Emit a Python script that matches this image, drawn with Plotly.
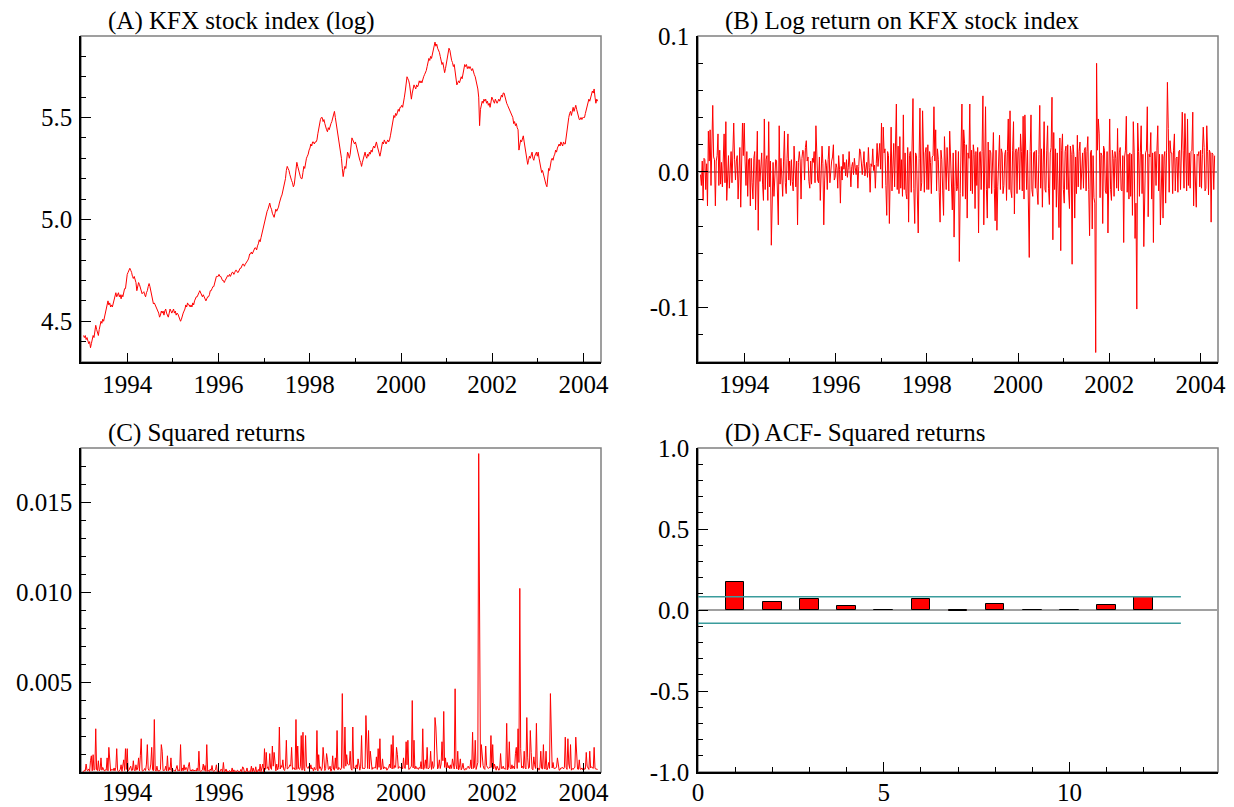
import pandas as pd
import plotly.graph_objects as go

W, H = 1234, 807

# ---------------- (A) KFX stock index (log), weekly, per calendar year ----------------
kfx_1993 = [4.43, 4.42, 4.43, 4.41, 4.42, 4.40, 4.39, 4.40, 4.37,
            4.39, 4.41, 4.43, 4.42, 4.45, 4.48,
            4.46, 4.44, 4.43, 4.46, 4.49, 4.50,
            4.49, 4.51, 4.50, 4.52, 4.54, 4.56, 4.59, 4.60,
            4.58, 4.59, 4.57, 4.58, 4.57,
            4.59, 4.61, 4.63, 4.64,
            4.62, 4.63, 4.64, 4.62, 4.63, 4.61,
            4.63, 4.62, 4.64, 4.66, 4.66, 4.71]
kfx_1994 = [4.73, 4.74, 4.75, 4.76, 4.75, 4.74, 4.72, 4.71, 4.72, 4.70, 4.69, 4.65, 4.67,
            4.69, 4.68, 4.66, 4.65, 4.635, 4.64, 4.645, 4.63, 4.62, 4.64, 4.65, 4.67, 4.685,
            4.67, 4.65, 4.635, 4.60, 4.585, 4.59, 4.58, 4.57, 4.56, 4.55, 4.54, 4.52, 4.53,
            4.55, 4.54, 4.55, 4.53, 4.55, 4.56, 4.54, 4.53, 4.52, 4.54, 4.56, 4.55, 4.54]
kfx_1995 = [4.55, 4.56, 4.54, 4.55, 4.53, 4.54, 4.535, 4.52, 4.51, 4.50, 4.51, 4.53, 4.54,
            4.55, 4.56, 4.58, 4.57, 4.59, 4.58, 4.58, 4.57, 4.58, 4.57, 4.59, 4.58, 4.60,
            4.61, 4.62, 4.62, 4.635, 4.64, 4.65, 4.64, 4.63, 4.62, 4.63, 4.62, 4.61, 4.60,
            4.61, 4.62, 4.62, 4.63, 4.65, 4.65, 4.66, 4.67, 4.67, 4.69, 4.70, 4.72, 4.72]
kfx_1996 = [4.72, 4.73, 4.72, 4.72, 4.71, 4.70, 4.70, 4.69, 4.70, 4.71, 4.72, 4.725, 4.72,
            4.73, 4.72, 4.73, 4.74, 4.74, 4.73, 4.74, 4.75, 4.75, 4.74, 4.74, 4.75, 4.76,
            4.76, 4.77, 4.78, 4.78, 4.77, 4.78, 4.785, 4.79, 4.80, 4.81, 4.83, 4.83, 4.84,
            4.83, 4.84, 4.85, 4.86, 4.86, 4.85, 4.87, 4.88, 4.90, 4.89, 4.91, 4.93, 4.95, 4.97]
kfx_1997 = [4.99, 5.01, 5.03, 5.04, 5.05, 5.07, 5.08, 5.06, 5.05, 5.03, 5.02, 5.01, 5.03,
            5.05, 5.04, 5.05, 5.06, 5.08, 5.10, 5.11, 5.12, 5.14, 5.15, 5.17, 5.20, 5.24,
            5.26, 5.25, 5.24, 5.22, 5.20, 5.19, 5.18, 5.16, 5.17, 5.20, 5.24, 5.28, 5.26,
            5.24, 5.22, 5.21, 5.20, 5.20, 5.23, 5.26, 5.25, 5.28, 5.30, 5.31, 5.32, 5.34]
kfx_1998 = [5.35, 5.37, 5.36, 5.38, 5.38, 5.37, 5.38, 5.38, 5.39, 5.42, 5.45, 5.47, 5.49,
            5.50, 5.50, 5.48, 5.49, 5.47, 5.45, 5.44, 5.43, 5.45, 5.44, 5.46, 5.47, 5.48,
            5.50, 5.51, 5.53, 5.50, 5.47, 5.45, 5.42, 5.39, 5.37, 5.34, 5.30, 5.25, 5.21,
            5.24, 5.26, 5.25, 5.29, 5.33, 5.32, 5.30, 5.32, 5.35, 5.40, 5.39, 5.38, 5.37]
kfx_1999 = [5.38, 5.36, 5.35, 5.33, 5.31, 5.29, 5.28, 5.26, 5.28, 5.30, 5.32, 5.33, 5.31,
            5.30, 5.32, 5.31, 5.33, 5.32, 5.34, 5.33, 5.35, 5.36, 5.35, 5.37, 5.38, 5.36,
            5.34, 5.32, 5.31, 5.33, 5.36, 5.38, 5.37, 5.39, 5.38, 5.37, 5.38, 5.39, 5.38,
            5.39, 5.41, 5.44, 5.47, 5.49, 5.51, 5.50, 5.52, 5.51, 5.53, 5.54, 5.53, 5.55]
kfx_2000 = [5.55, 5.56, 5.55, 5.57, 5.60, 5.63, 5.67, 5.70, 5.69, 5.68, 5.66, 5.62, 5.59,
            5.62, 5.64, 5.66, 5.65, 5.64, 5.66, 5.65, 5.66, 5.68, 5.67, 5.68, 5.67, 5.69,
            5.70, 5.71, 5.72, 5.73, 5.75, 5.77, 5.79, 5.78, 5.80, 5.79, 5.81, 5.83, 5.85,
            5.87, 5.85, 5.86, 5.84, 5.83, 5.82, 5.80, 5.78, 5.76, 5.77, 5.75, 5.72, 5.74, 5.77]
kfx_2001 = [5.79, 5.82, 5.84, 5.83, 5.80, 5.78, 5.77, 5.75, 5.76, 5.73, 5.70, 5.66, 5.67,
            5.68, 5.67, 5.69, 5.70, 5.69, 5.72, 5.74, 5.76, 5.75, 5.76, 5.74, 5.75, 5.74,
            5.75, 5.74, 5.73, 5.74, 5.72, 5.71, 5.70, 5.68, 5.66, 5.64, 5.60, 5.46, 5.54,
            5.56, 5.58, 5.57, 5.59, 5.58, 5.59, 5.57, 5.58, 5.56, 5.57, 5.55, 5.58, 5.60]
kfx_2002 = [5.59, 5.58, 5.57, 5.59, 5.58, 5.57, 5.58, 5.59, 5.58, 5.60, 5.61, 5.60, 5.62,
            5.62, 5.60, 5.58, 5.57, 5.56, 5.55, 5.54, 5.53, 5.52, 5.51, 5.50, 5.47, 5.48,
            5.46, 5.47, 5.45, 5.44, 5.34, 5.37, 5.39, 5.38, 5.40, 5.41, 5.38, 5.35, 5.31,
            5.29, 5.27, 5.29, 5.31, 5.30, 5.32, 5.33, 5.30, 5.29, 5.31, 5.32, 5.33, 5.31]
kfx_2003 = [5.33, 5.30, 5.28, 5.26, 5.23, 5.24, 5.22, 5.21, 5.19, 5.17, 5.16, 5.22, 5.25,
            5.24, 5.27, 5.29, 5.30, 5.29, 5.31, 5.32, 5.34, 5.33, 5.35, 5.36, 5.37, 5.36,
            5.38, 5.37, 5.36, 5.38, 5.37, 5.37, 5.41, 5.45, 5.48, 5.50, 5.52, 5.53, 5.51,
            5.54, 5.55, 5.53, 5.55, 5.56, 5.54, 5.52, 5.50, 5.49, 5.49, 5.50, 5.49, 5.50]
kfx_2004 = [5.50, 5.50, 5.52, 5.54, 5.56, 5.57, 5.59, 5.58, 5.60, 5.61, 5.63, 5.62, 5.64,
            5.60, 5.57, 5.59, 5.58]

# ---------------- (B) weekly log return, per calendar year ----------------
ret_1993 = [-0.002, -0.010, 0.008, -0.021, 0.010, 0.009, -0.013, 0.006, -0.025, 0.030,
            0.008, 0.031, -0.010, 0.012, 0.049, 0.011, 0.009, -0.025, 0.008, 0.012,
            0.028, -0.010, 0.016, -0.009, 0.007, -0.011, 0.010, 0.028, -0.008, 0.037,
            -0.021, 0.007, 0.012, -0.012, 0.009, 0.015, -0.008, 0.016, 0.036, 0.009,
            -0.006, 0.008, 0.012, -0.020, 0.006, 0.018, -0.026, 0.009, 0.036, 0.012]
ret_1994 = [0.036, 0.008, -0.010, 0.015, -0.018, 0.009, 0.010, -0.025, 0.010, -0.008,
            -0.020, 0.010, 0.015, -0.028, 0.008, 0.030, -0.043, 0.009, -0.007, 0.010,
            0.014, -0.009, -0.021, 0.039, -0.013, 0.009, 0.012, -0.021, 0.037, -0.011,
            0.008, -0.054, -0.010, 0.007, -0.018, -0.008, 0.009, 0.008, -0.012, -0.039,
            0.034, -0.009, 0.010, -0.010, -0.018, 0.008, 0.030, -0.008, -0.016, 0.010,
            0.028, -0.006]
ret_1995 = [0.008, -0.010, 0.009, -0.007, -0.014, 0.019, 0.008, -0.011, 0.008, -0.039,
            0.007, 0.015, 0.008, -0.020, 0.010, 0.016, 0.015, -0.006, 0.018, 0.023,
            0.008, 0.011, -0.007, -0.012, 0.008, -0.009, 0.010, 0.007, 0.015, -0.008,
            0.034, 0.008, -0.006, -0.008, 0.011, -0.021, 0.009, 0.019, 0.006, -0.039,
            -0.006, 0.009, 0.005, -0.013, 0.009, 0.019, -0.008, 0.006, 0.008, 0.011,
            0.020, -0.006]
ret_1996 = [-0.004, 0.006, 0.003, -0.012, 0.012, 0.002, -0.023, 0.004, -0.006, 0.013,
            0.002, 0.007, -0.003, 0.009, -0.004, 0.003, 0.015, 0.002, -0.011, 0.004,
            0.007, -0.002, 0.010, 0.003, -0.002, 0.005, -0.012, 0.004, 0.017, 0.015,
            0.002, -0.002, 0.006, 0.015, -0.003, 0.001, 0.007, -0.004, 0.018, 0.003,
            -0.015, 0.006, 0.004, 0.017, 0.001, 0.005, -0.012, 0.006, 0.021, 0.004,
            0.015, 0.021, 0.002]
ret_1997 = [0.036, -0.012, 0.033, 0.014, 0.017, -0.010, -0.032, 0.015, 0.012, -0.038,
            0.018, 0.033, -0.014, 0.008, 0.021, -0.011, 0.016, 0.050, -0.013, 0.019,
            -0.016, 0.026, -0.012, 0.009, -0.018, 0.042, -0.013, 0.014, -0.016, -0.020,
            0.018, -0.037, 0.012, 0.015, -0.015, 0.011, 0.054, -0.012, -0.038, 0.014,
            0.012, -0.017, -0.045, 0.010, 0.047, -0.014, -0.008, 0.045, 0.018, -0.015,
            0.014, 0.018]
ret_1998 = [-0.013, 0.020, -0.013, 0.015, 0.007, -0.016, 0.011, 0.012, 0.048, 0.008,
            0.031, -0.014, 0.017, 0.009, -0.015, -0.037, 0.016, 0.009, -0.014, -0.032,
            0.026, 0.012, -0.013, 0.018, 0.006, -0.014, 0.030, 0.012, -0.010, -0.028,
            0.014, -0.048, -0.011, 0.016, -0.014, -0.011, 0.015, -0.066, -0.016, 0.014,
            0.050, -0.018, 0.031, 0.021, -0.020, 0.020, -0.034, 0.014, 0.010, 0.050,
            -0.014, 0.016]
ret_1999 = [-0.016, 0.020, 0.013, -0.027, 0.015, -0.010, 0.018, -0.045, 0.014, 0.015,
            -0.013, 0.015, 0.056, -0.039, 0.014, 0.048, -0.013, -0.034, 0.022, -0.012,
            0.016, 0.014, -0.016, 0.015, 0.029, -0.012, -0.036, 0.016, -0.043, -0.011,
            0.015, 0.027, -0.013, 0.017, 0.014, -0.016, -0.010, 0.013, 0.016, -0.021,
            0.015, 0.039, -0.013, 0.045, -0.014, -0.019, 0.016, 0.037, -0.031, 0.014,
            0.017, -0.016]
ret_2000 = [0.015, 0.018, -0.013, 0.028, 0.015, -0.014, 0.041, -0.020, 0.042, 0.012,
            -0.013, 0.016, -0.018, -0.063, 0.015, 0.042, -0.013, -0.018, 0.014, 0.015,
            -0.012, 0.016, -0.014, -0.024, 0.013, 0.049, -0.012, 0.017, -0.026, 0.014,
            0.037, -0.013, -0.015, 0.016, 0.034, -0.012, -0.024, 0.014, 0.018, 0.055,
            -0.050, 0.029, -0.013, 0.017, -0.026, 0.014, -0.021, -0.041, 0.025, -0.058,
            0.016, 0.028, -0.013]
ret_2001 = [-0.023, 0.015, 0.019, -0.013, 0.020, -0.014, -0.027, 0.019, 0.013, -0.068,
            0.020, 0.013, -0.034, 0.011, -0.016, 0.027, -0.011, 0.015, 0.022, -0.013,
            0.010, 0.014, -0.012, 0.016, 0.018, -0.014, 0.015, 0.026, -0.013, -0.047,
            0.014, 0.016, -0.042, 0.012, -0.019, -0.023, -0.133, 0.080, 0.016, 0.039,
            0.028, -0.019, 0.014, 0.012, -0.038, 0.019, 0.016, -0.014, -0.016, 0.015,
            -0.045, 0.016]
ret_2002 = [0.039, -0.013, -0.021, 0.016, 0.010, -0.018, 0.015, 0.010, -0.012, 0.032,
            -0.014, 0.014, 0.018, -0.013, -0.014, 0.012, -0.052, 0.011, 0.016, 0.041,
            -0.015, 0.013, -0.020, 0.014, -0.018, 0.013, -0.032, 0.037, 0.014, -0.049,
            -0.023, -0.101, 0.036, 0.015, -0.018, 0.014, 0.034, -0.016, 0.013, -0.055,
            -0.028, 0.014, 0.016, 0.048, -0.033, 0.013, 0.011, 0.029, -0.020, 0.014,
            -0.052, 0.014]
ret_2003 = [0.015, -0.010, 0.016, 0.034, -0.014, 0.013, -0.039, -0.014, 0.013, -0.034,
            0.011, 0.015, -0.023, 0.014, 0.066, 0.032, -0.015, 0.023, 0.014, 0.014,
            -0.016, 0.016, 0.028, -0.014, 0.010, 0.011, -0.015, 0.015, 0.016, -0.013,
            0.016, 0.044, 0.016, -0.012, 0.043, 0.021, -0.014, 0.039, -0.010, 0.014,
            -0.012, 0.015, 0.016, 0.044, -0.025, 0.013, -0.012, -0.026, 0.013, 0.012,
            0.015, -0.011]
ret_2004 = [0.016, -0.012, 0.013, 0.033, 0.018, -0.014, -0.012, 0.034, 0.015, -0.017,
            0.016, 0.014, -0.037, 0.014, 0.013, -0.013, 0.012]

# ---------------- (D) ACF of squared returns ----------------
acf_lags = [1, 2, 3, 4, 5, 6, 7, 8, 9, 10, 11, 12]
acf_values = [0.176, 0.047, 0.068, 0.025, 0.003, 0.066, -0.008, 0.035, 0.002, 0.002, 0.031, 0.080]
acf_band = 0.082

year_ticks = ["1994", "1996", "1998", "2000", "2002", "2004"]

# ---------------- assemble ----------------
log_index = (kfx_1993 + kfx_1994 + kfx_1995 + kfx_1996 + kfx_1997 + kfx_1998 +
             kfx_1999 + kfx_2000 + kfx_2001 + kfx_2002 + kfx_2003 + kfx_2004)
log_ret = (ret_1993 + ret_1994 + ret_1995 + ret_1996 + ret_1997 + ret_1998 +
           ret_1999 + ret_2000 + ret_2001 + ret_2002 + ret_2003 + ret_2004)
sq_ret = [r * r for r in log_ret]

d_index = pd.date_range("1993-01-15", periods=len(log_index), freq="7D")
d_ret = pd.date_range("1993-01-15", periods=len(log_ret), freq="7D")

RED = "#ff0000"
FONT = "Liberation Serif"
FS = 25

# panel frames in pixels (left, right, top, bottom)
PA = (81, 601, 36, 362)
PB = (698, 1218, 36, 362)
PC = (81, 601, 448, 772)
PD = (698, 1218, 448, 772)


def xdom(p):
    return [p[0] / W, p[1] / W]


def ydom(p):
    return [1 - p[3] / H, 1 - p[2] / H]


fig = go.Figure()
fig.add_trace(go.Scatter(x=d_index, y=log_index, mode="lines",
                         line=dict(color=RED, width=1), xaxis="x", yaxis="y"))
fig.add_trace(go.Scatter(x=d_ret, y=log_ret, mode="lines",
                         line=dict(color=RED, width=1), xaxis="x2", yaxis="y2"))
fig.add_trace(go.Scatter(x=d_ret, y=sq_ret, mode="lines",
                         line=dict(color=RED, width=1), xaxis="x3", yaxis="y3"))
band_x = [0, len(acf_lags) + 1]
fig.add_trace(go.Scatter(x=band_x, y=[acf_band, acf_band], mode="lines",
                         line=dict(color="#3a9c9c", width=1.5), xaxis="x4", yaxis="y4"))
fig.add_trace(go.Scatter(x=band_x, y=[-acf_band, -acf_band], mode="lines",
                         line=dict(color="#3a9c9c", width=1.5), xaxis="x4", yaxis="y4"))
fig.add_trace(go.Bar(x=acf_lags, y=acf_values, width=0.5,
                     marker=dict(color=RED, line=dict(color="black", width=1)),
                     xaxis="x4", yaxis="y4"))

tickfont = dict(family=FONT, size=FS, color="black")


def base_axis(dom, anchor):
    return dict(domain=dom, anchor=anchor, showgrid=False, zeroline=False,
                showline=True, linecolor="black", linewidth=1.5, automargin=False,
                ticks="inside", tickcolor="black", tickwidth=1,
                tickfont=tickfont, fixedrange=True)


def date_axis(p, anchor, standoff):
    a = base_axis(xdom(p), anchor)
    a.update(type="date", range=["1992-12-26", "2004-05-20"],
             tickmode="array",
             tickvals=[f"{y}-01-01" for y in year_ticks], ticktext=year_ticks,
             ticklen=9, ticklabelstandoff=standoff,
             minor=dict(dtick="M12", tick0="1993-01-01", ticklen=4,
                        ticks="inside", tickcolor="black", tickwidth=1))
    return a


def val_axis(p, anchor, rng, vals, texts, minor_dtick):
    a = base_axis(ydom(p), anchor)
    a.update(range=rng, tickmode="array", tickvals=vals, ticktext=texts,
             ticklen=10, ticklabelstandoff=2,
             minor=dict(dtick=minor_dtick, tick0=0, ticklen=5,
                        ticks="inside", tickcolor="black", tickwidth=1))
    return a


layout = dict(
    template="none",
    width=W, height=H, margin=dict(l=0, r=0, t=0, b=0, autoexpand=False),
    paper_bgcolor="white", plot_bgcolor="white", showlegend=False,
    font=dict(family=FONT, size=FS, color="black"),
    xaxis=date_axis(PA, "y", -1),
    yaxis=val_axis(PA, "x", [4.3, 5.9], [4.5, 5.0, 5.5], ["4.5", "5.0", "5.5"], 0.1),
    xaxis2=date_axis(PB, "y2", -1),
    yaxis2=val_axis(PB, "x2", [-0.14, 0.1001], [-0.1, 0.0, 0.1], ["-0.1", "0.0", "0.1"], 0.02),
    xaxis3=date_axis(PC, "y3", -3),
    yaxis3=val_axis(PC, "x3", [0, 0.018], [0.005, 0.010, 0.015], ["0.005", "0.010", "0.015"], 0.001),
    xaxis4=dict(base_axis(xdom(PD), "y4"), range=[0, 14], tickmode="array",
                tickvals=[0, 5, 10], ticktext=["0", "5", "10"], ticklen=10,
                ticklabelstandoff=-3,
                minor=dict(dtick=1, tick0=0, ticklen=5, ticks="inside",
                           tickcolor="black", tickwidth=1)),
    yaxis4=val_axis(PD, "x4", [-1, 1.0001], [-1, -0.5, 0, 0.5, 1.0],
                    ["-1.0", "-0.5", "0.0", "0.5", "1.0"], 0.1),
    bargap=0,
)
layout["yaxis2"].update(zeroline=True, zerolinecolor="#a0a0a0", zerolinewidth=2)
layout["yaxis4"].update(zeroline=True, zerolinecolor="#a0a0a0", zerolinewidth=1.5)
fig.update_layout(**layout)

# gray frame around each panel
for xa, ya in [("x", "y"), ("x2", "y2"), ("x3", "y3"), ("x4", "y4")]:
    fig.add_shape(type="rect", xref=f"{xa} domain", yref=f"{ya} domain",
                  x0=0, x1=1, y0=0, y1=1, line=dict(color="#808080", width=1.5),
                  layer="below")

titles = [("(A) KFX stock index (log)", PA), ("(B) Log return on KFX stock index", PB),
          ("(C) Squared returns", PC), ("(D) ACF- Squared returns", PD)]
for text, p in titles:
    fig.add_annotation(text=text, xref="paper", yref="paper",
                       x=(p[0] + 25) / W, y=1 - (p[2] - 15) / H,
                       xanchor="left", yanchor="middle", showarrow=False,
                       font=dict(family=FONT, size=FS, color="black"))

fig.write_html("out.html", config={"displayModeBar": False},
               post_script="document.body.style.margin='0';document.body.style.overflow='hidden';")
